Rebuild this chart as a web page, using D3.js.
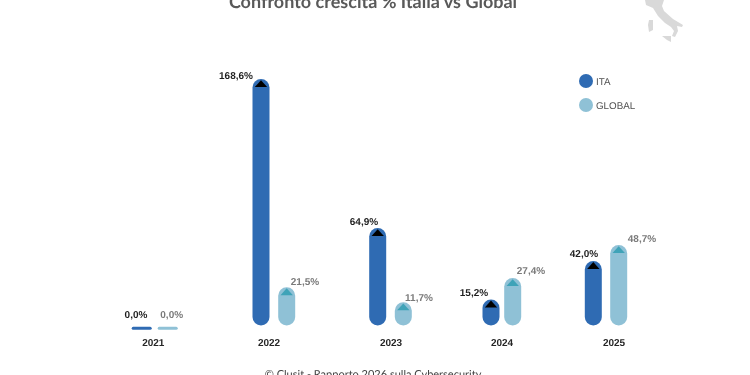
<!DOCTYPE html>
<html><head><meta charset="utf-8">
<style>html,body{margin:0;padding:0;background:#fff;overflow:hidden}svg{display:block;filter:blur(0.35px);text-rendering:geometricPrecision}</style>
<script src="https://cdn.jsdelivr.net/npm/d3@7"></script></head>
<body><svg id="c" width="750" height="375"></svg>
<script>
const years = ["2021","2022","2023","2024","2025"];
const ita = [0,168.6,64.9,15.2,42.0];
const glob = [0,21.5,11.7,27.4,48.7];
const seriesNames = ["ITA","GLOBAL"];
const titleText = "Confronto crescita % Italia vs Global";
const footerText = "© Clusit - Rapporto 2026 sulla Cybersecurity";

const svg = d3.select("#c");
const BLUE="#2f6bb3", LIGHT="#8fc1d6", TEAL="#3fa3b8", BLACK="#000";
const base = 325.5, w = 17;
const xIta = d3.scaleOrdinal().domain(years).range([141.7,261,377.7,491,593.3]);
const xGlob = d3.scaleOrdinal().domain(years).range([167.7,286.7,403.3,512.7,618.7]);
const xYear = d3.scaleOrdinal().domain(years).range([153.3,269,391,502,614]);
const lblIta = d3.scaleOrdinal().domain(years).range([136,236,364,474,584]);
const lblGlob = d3.scaleOrdinal().domain(years).range([171.7,305,419,531,642]);
const liftIta = d3.scaleOrdinal().domain(years).range([0,0.5,3,3.3,4.2]);
const liftGlob = d3.scaleOrdinal().domain(years).range([0,2,1,3.7,3.3]);
const yIta = d3.scaleLinear().domain([0,168.6]).range([base-4.25,79]);
const yGlob = d3.scaleLinear().domain([0,48.7]).range([base-5,245]);
const fmt = v => v.toFixed(1).replace(".",",")+"%";
const ARIAL="Liberation Sans";

svg.append("text").attr("x",373).attr("y",7.5).attr("text-anchor","middle")
  .attr("font-family","Lato").attr("font-weight",700).attr("font-size",18).attr("fill","#595959").text(titleText);
svg.append("text").attr("x",373).attr("y",378).attr("text-anchor","middle")
  .attr("font-family","Lato").attr("font-size",11).attr("fill","#404040").text(footerText);

const mainland = [[645,0],[664,0],[662,6],[664,11],[673,19],[683,25],[682,27],[677,26],[678,31],[675,37],[672,36],[674,31],[671,27],[665,23],[658,16],[653,8],[646,5]];
const sardinia = [[649,20],[653,20],[653,30],[649,32],[648,25]];
const sicily = [[662,36],[671,36],[671,42],[667,40]];
const line = d3.line().curve(d3.curveLinearClosed);
[mainland,sardinia,sicily].forEach(s=>svg.append("path").attr("d",line(s)).attr("fill","#d9d9d9"));

function bars(vals,xs,ys,lx,lift,fill,tri,labelFill){
  years.forEach((yr,i)=>{
    const v=vals[i], cx=xs(yr);
    const label=svg.append("text").attr("x",lx(yr)).attr("text-anchor","middle")
      .attr("font-family",ARIAL).attr("font-weight",700).attr("font-size",10).attr("fill",labelFill).text(fmt(v));
    if(v===0){
      svg.append("rect").attr("x",cx-10).attr("y",326.8).attr("width",20).attr("height",3).attr("rx",1.5).attr("fill",fill);
      label.attr("y",317.7);
      return;
    }
    const top=ys(v);
    svg.append("rect").attr("x",cx-w/2).attr("y",top).attr("width",w).attr("height",base-top)
      .attr("rx",w/2).attr("fill",fill);
    const tp=d3.path(); tp.moveTo(cx,top+1.2); tp.lineTo(cx+6.2,top+8); tp.lineTo(cx-6.2,top+8); tp.closePath();
    svg.append("path").attr("d",tp.toString()).attr("fill",tri);
    label.attr("y",top-lift(yr));
  });
}
bars(ita,xIta,yIta,lblIta,liftIta,BLUE,BLACK,"#1f1f1f");
bars(glob,xGlob,yGlob,lblGlob,liftGlob,LIGHT,TEAL,"#7a7a7a");

years.forEach(yr=>svg.append("text").attr("x",xYear(yr)).attr("y",345.5).attr("text-anchor","middle")
  .attr("font-family",ARIAL).attr("font-weight",700).attr("font-size",10).attr("fill","#262626").text(yr));

const ly=d3.scalePoint().domain(seriesNames).range([81,105]);
seriesNames.forEach((n,i)=>{
  svg.append("circle").attr("cx",586).attr("cy",ly(n)).attr("r",7).attr("fill",i?LIGHT:BLUE);
  svg.append("text").attr("x",596).attr("y",ly(n)+4).attr("font-family",ARIAL).attr("font-size",9.8).attr("fill","#505050").text(n);
});
</script></body></html>
